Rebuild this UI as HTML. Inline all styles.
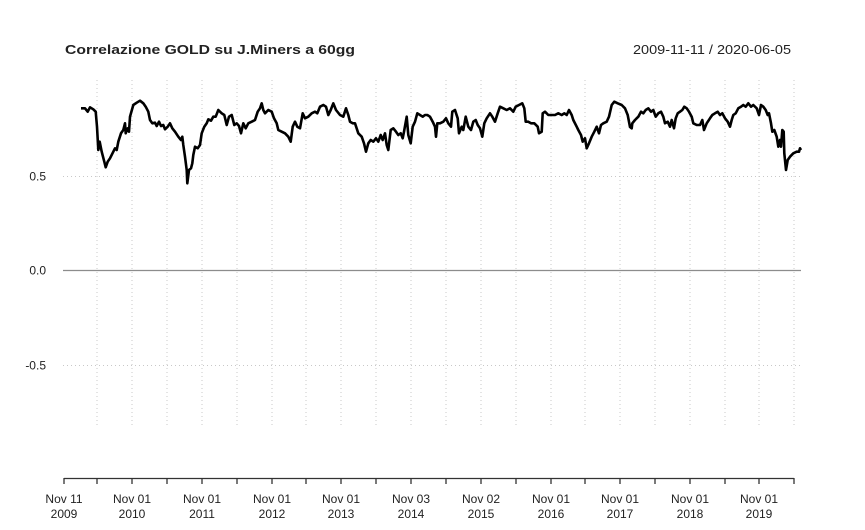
<!DOCTYPE html>
<html>
<head>
<meta charset="utf-8">
<style>
html,body{margin:0;padding:0;background:#fff;}
svg{display:block;}
text{font-family:"Liberation Sans",Arial,sans-serif;fill:#222;}
</style>
</head>
<body>
<svg width="865" height="530" viewBox="0 0 865 530" xmlns="http://www.w3.org/2000/svg">
<rect width="865" height="530" fill="#fff"/>
<!-- title -->
<text x="65" y="54" font-size="13" font-weight="bold" textLength="290" lengthAdjust="spacingAndGlyphs">Correlazione GOLD su J.Miners a 60gg</text>
<text x="791" y="54" font-size="13" text-anchor="end" textLength="158" lengthAdjust="spacingAndGlyphs">2009-11-11 / 2020-06-05</text>

<!-- vertical grid -->
<g stroke="#c8c8c8" stroke-width="1" stroke-dasharray="1,3">
<line x1="97" y1="80" x2="97" y2="428"/>
<line x1="132" y1="80" x2="132" y2="428"/>
<line x1="167" y1="80" x2="167" y2="428"/>
<line x1="202" y1="80" x2="202" y2="428"/>
<line x1="237" y1="80" x2="237" y2="428"/>
<line x1="272" y1="80" x2="272" y2="428"/>
<line x1="306" y1="80" x2="306" y2="428"/>
<line x1="341" y1="80" x2="341" y2="428"/>
<line x1="376" y1="80" x2="376" y2="428"/>
<line x1="411" y1="80" x2="411" y2="428"/>
<line x1="446" y1="80" x2="446" y2="428"/>
<line x1="481" y1="80" x2="481" y2="428"/>
<line x1="516" y1="80" x2="516" y2="428"/>
<line x1="551" y1="80" x2="551" y2="428"/>
<line x1="585" y1="80" x2="585" y2="428"/>
<line x1="620" y1="80" x2="620" y2="428"/>
<line x1="655" y1="80" x2="655" y2="428"/>
<line x1="690" y1="80" x2="690" y2="428"/>
<line x1="725" y1="80" x2="725" y2="428"/>
<line x1="759" y1="80" x2="759" y2="428"/>
<line x1="794" y1="80" x2="794" y2="428"/>
<line x1="63" y1="176.5" x2="801" y2="176.5"/>
<line x1="63" y1="365.5" x2="801" y2="365.5"/>
</g>
<!-- zero line -->
<line x1="63" y1="270.5" x2="801" y2="270.5" stroke="#8c8c8c" stroke-width="1.2"/>

<!-- y labels -->
<g font-size="12" text-anchor="end">
<text x="46" y="180.5">0.5</text>
<text x="46" y="274.5">0.0</text>
<text x="46" y="369.5">-0.5</text>
</g>

<!-- x axis -->
<line x1="64" y1="478.5" x2="794" y2="478.5" stroke="#333" stroke-width="1.3"/>
<g stroke="#333" stroke-width="1.3">
<line x1="64" y1="478" x2="64" y2="484"/>
<line x1="97" y1="478" x2="97" y2="484"/>
<line x1="132" y1="478" x2="132" y2="484"/>
<line x1="167" y1="478" x2="167" y2="484"/>
<line x1="202" y1="478" x2="202" y2="484"/>
<line x1="237" y1="478" x2="237" y2="484"/>
<line x1="272" y1="478" x2="272" y2="484"/>
<line x1="306" y1="478" x2="306" y2="484"/>
<line x1="341" y1="478" x2="341" y2="484"/>
<line x1="376" y1="478" x2="376" y2="484"/>
<line x1="411" y1="478" x2="411" y2="484"/>
<line x1="446" y1="478" x2="446" y2="484"/>
<line x1="481" y1="478" x2="481" y2="484"/>
<line x1="516" y1="478" x2="516" y2="484"/>
<line x1="551" y1="478" x2="551" y2="484"/>
<line x1="585" y1="478" x2="585" y2="484"/>
<line x1="620" y1="478" x2="620" y2="484"/>
<line x1="655" y1="478" x2="655" y2="484"/>
<line x1="690" y1="478" x2="690" y2="484"/>
<line x1="725" y1="478" x2="725" y2="484"/>
<line x1="759" y1="478" x2="759" y2="484"/>
<line x1="794" y1="478" x2="794" y2="484"/>
</g>
<g font-size="12" text-anchor="middle">
<text x="64" y="503">Nov 11</text><text x="64" y="518">2009</text>
<text x="132" y="503">Nov 01</text><text x="132" y="518">2010</text>
<text x="202" y="503">Nov 01</text><text x="202" y="518">2011</text>
<text x="272" y="503">Nov 01</text><text x="272" y="518">2012</text>
<text x="341" y="503">Nov 01</text><text x="341" y="518">2013</text>
<text x="411" y="503">Nov 03</text><text x="411" y="518">2014</text>
<text x="481" y="503">Nov 02</text><text x="481" y="518">2015</text>
<text x="551" y="503">Nov 01</text><text x="551" y="518">2016</text>
<text x="620" y="503">Nov 01</text><text x="620" y="518">2017</text>
<text x="690" y="503">Nov 01</text><text x="690" y="518">2018</text>
<text x="759" y="503">Nov 01</text><text x="759" y="518">2019</text>
</g>

<!-- series -->
<polyline fill="none" stroke="#000" stroke-width="2.6" stroke-linejoin="round" points="
81,108.3 85,108.3 87.7,111.7 90,107.3 93.3,109.3 95.7,111.7 97,126.7 98.3,150 99.7,141.7 101.7,151.7 104.3,161.7 105.7,167.3 107.7,161.7 110,158.3 113.3,151.7 115,148.3 116.7,150 118.3,141.7 121,133.3 123.3,130 125,123.3 125.7,133.3 127.7,128.3 129,131.7 130,116.7 133.3,105 136.7,102.7 140,100.7 143.3,103.3 145.7,106.7 148.3,111.7 150,120 152.3,123.3 155,122.7 156.7,126 159,121.7 161,126 163.3,125 165,129.3 167.7,126.7 170,123.3 172.3,128.3 175,131.7 178.3,136.7 181,140 182.3,136.7 183.3,145 185,156.7 186.7,170 187.3,183.3 189,170 191,168.3 192.3,163.3 193.3,155 195,146.7 197.7,148.3 200,145 201.7,133.3 204.3,126.7 206.7,123.3 208.3,119.3 211,120.7 213.3,116.7 215.7,116.7 218.3,110 221.7,113.3 224.3,115 226.7,125 229,116.7 231.7,115 234.3,125 236.7,123.3 239,126 241,133.3 243.3,123.3 245.7,128.3 248.3,123.3 251.7,121.7 255,120 257.7,111.7 260,108.3 261.7,103.3 263.3,110
265,113.3 268.3,110 271.7,111.7 274,118.3 276.7,123.3 278.3,130 281.7,131.7 285,133.3 288.3,136.7 290.7,141.7 292.7,126.7 295,121.7 297.3,126.7 300,128.3 302.7,113.3 305,118.3 308.3,116.7 311.7,113.3 315,111.7 317.3,113.3 320,106.7 323.3,105 326,106.7 328.3,115 330.7,110 333.3,103.3 336,110 340,115 343.3,116.7 346,108.3 348.3,115 350,121.7 352.7,123.3 355,123.3 358.3,133.3 361.7,136.7 364,143.3 366,151.7 368.3,143.3 370.7,140 373.3,141.7 376,138.3 378.3,141.7 380.7,135 382.7,140 385,133.3 386.7,145 388.3,150 390.7,130 393.3,128.3 396,131.7 398.3,135 400.7,133.3 402.7,138.3 404,131.7 406.7,116.7 408.3,135 410.7,143.3 412.7,126.7 415,121.7 417.3,113.3 420,115 422.7,116.7 425,115 427.3,115 430,116.7 432.7,121.7 435,126.7 436,136.7 437.3,123.3 440,123.3 443.3,121.7 446,118.3
448.3,123.3 451,126.7 452.3,111.7 455,110 457.7,118.3 459,133.3 461.7,126.7 463.3,130 465.7,116.7 468.3,126.7 471,130 473.3,121.7 475.7,120 477.7,125 480,128.3 482.3,136.7 484.3,123.3 486.7,118.3 490,113.3 492.3,116.7 495,121.7 497.7,113.3 500,106.7 503.3,108.3 506.7,110 510,108.3 513.3,111.7 515.7,106.7 519,105 522.3,103.3 524.3,108.3 525.7,121.7 528.3,121.7 531,123.3 534.3,123.3 537.7,126.7 539,133.3 541.7,131.7 542.7,113.3 545,111.7 548.3,115 551.7,115 555,115 558.3,113.3 561.7,115 564.3,113.3 566.7,115 569,110 571.7,115 573.3,120 576.7,126.7 578.3,130 581,135 582.7,141.7 585,138.3 586.7,148.3 589,143.3 591.7,136.7 594.3,131.7 596.7,126.7 599,133.3 601,125 603.3,123.3 606.7,121.7 609,116.7 611.7,105 614.3,101.7 617.7,103.3 621.7,105 625,108.3 627.7,115 630,127 631.7,128.3
632.3,123.3 635,120 638.3,116.7 641,111.7 643.3,113.3 645.7,110 648.3,108.3 651,111.7 653.3,110 655.7,116.7 658.3,113.3 661,111.7 663.3,116.7 665,123.3 667.7,121.7 670,126.7 671.7,120 674,128.3 675.7,118.3 677.7,113.3 680,111.7 682.3,110 684.3,106.7 686.7,108.3 689,111.7 691.7,116.7 693.3,123.3 696.7,125 700,125 702.3,120 704,130 706.7,123.3 710,118.3 712.3,115 715,113.3 717.7,111.7 720,115 722.3,113.3 725,118.3 727.7,121.7 730,126.7 731.7,120 733.3,115 735.7,113.3 738.3,108.3 741,106.7 743.3,105 745.7,106.7 748.3,103.3 751,106.7 753.3,105 756.7,108.3 759,115 761,105 763.3,106.7 765.7,110 767.7,115 769,113.3 771,123.3 772.3,131.7 774.3,130 776.7,136.7 778.3,146.7 780,140 781,146.7 782.3,130 783.7,131.7 784.3,153.3 786,170 787.7,160 790,156.7 793.3,153.3 796.7,151.7 799,151.7 800,148.3 801,150"/>
</svg>
</body>
</html>
